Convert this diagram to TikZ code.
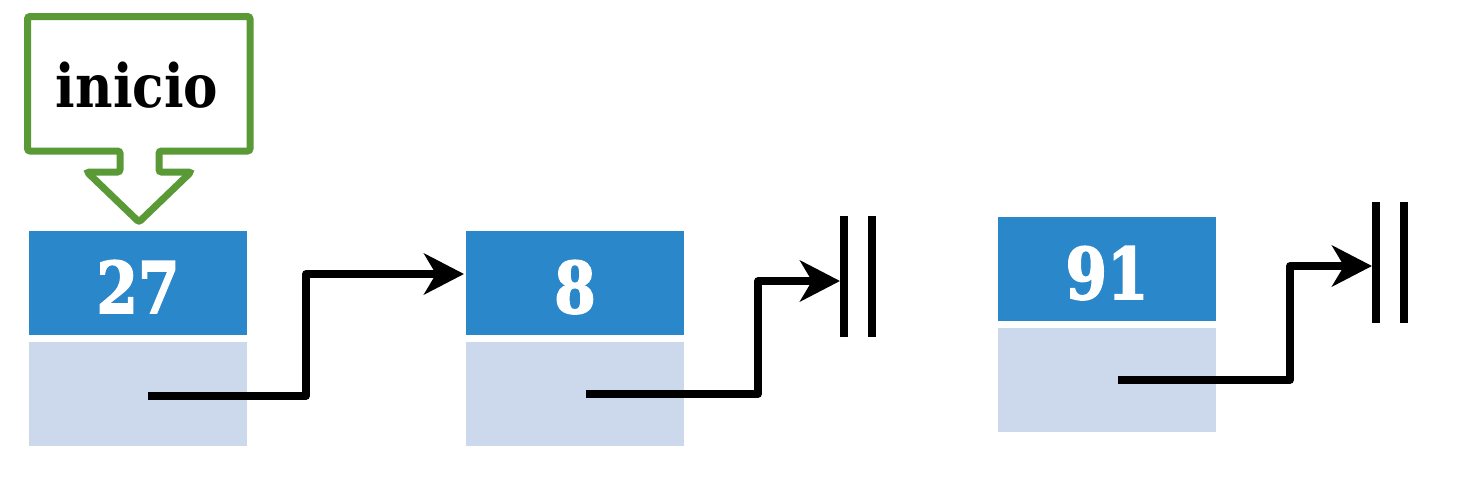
\documentclass[tikz,border=0pt]{standalone}
\usepackage{fontspec}
\setmainfont{DejaVu Serif}
\newfontfamily\numfont{DejaVu Serif}[BoldFeatures={FakeBold=2.5}]
\usetikzlibrary{arrows.meta,calc}
\definecolor{dblue}{HTML}{2987CA}
\definecolor{lblue}{HTML}{CCD9EC}
\definecolor{cgreen}{HTML}{5A9A36}
\begin{document}
\begin{tikzpicture}[x=1pt,y=-1pt,
  valbox/.style={fill=dblue, minimum width=218pt, minimum height=104pt, inner sep=0pt, outer sep=0pt, anchor=north west},
  ptrbox/.style={fill=lblue, minimum width=218pt, minimum height=104pt, inner sep=0pt, outer sep=0pt, anchor=north west},
  numtext/.style={text=white, inner sep=0pt, anchor=base, font=\fontsize{71}{71}\numfont\bfseries},
  link/.style={line width=7.5pt, line join=round, -{Stealth[length=40pt,width=41pt,inset=12pt]}},
  nullbar/.style={line width=8pt},
  callout/.style={draw=cgreen, line width=7pt, rounded corners=2.5pt, fill=white}
]
\useasboundingbox (0,0) rectangle (1478,480);

% callout
\draw[callout] (27.5,16.5) -- (250,16.5) -- (250,151) -- (159,151) -- (159,172) -- (191,172)
  -- (139,222) -- (87,172) -- (120,172) -- (120,151) -- (27.5,151) -- cycle;
\node[inner sep=0pt, anchor=base, font=\fontsize{60}{60}\selectfont\bfseries] (lbl) at (137,107) {\scalebox{0.86}[1]{inicio}};

% nodes
\node[valbox] (v1) at (29,231) {};
\node[ptrbox] (p1) at (29,342) {};
\node[valbox] (v2) at (466,231) {};
\node[ptrbox] (p2) at (466,342) {};
\node[valbox] (v3) at (998,217) {};
\node[ptrbox] (p3) at (998,328) {};

\node[numtext] (t1) at ($(v1.north)+(0,82)$) {\scalebox{0.84}[1]{27}};
\node[numtext] (t2) at ($(v2.north)+(0,82)$) {\scalebox{0.84}[1]{8}};
\node[numtext] (t3) at ($(v3.north)+(0,82)$) {\scalebox{0.84}[1]{91}};

% link start points
\coordinate (s1) at (148,396);
\coordinate (s2) at (586,394);
\coordinate (s3) at (1118,380);

% null markers
\coordinate (n2) at (840,281);
\coordinate (n3) at (1372,266);
\draw[nullbar] (844,216) -- (844,337);
\draw[nullbar] (872,216) -- (872,337);
\draw[nullbar] (1376,202) -- (1376,323);
\draw[nullbar] (1404,202) -- (1404,323);

% links
\draw[link] (s1) -- (306,396) -- (306,274) -- ($(v2.west)+(-2,-9)$);
\draw[link] (s2) -- (758,394) -- (758,281) -- (n2);
\draw[link] (s3) -- (1290,380) -- (1290,266) -- (n3);
\end{tikzpicture}
\end{document}
